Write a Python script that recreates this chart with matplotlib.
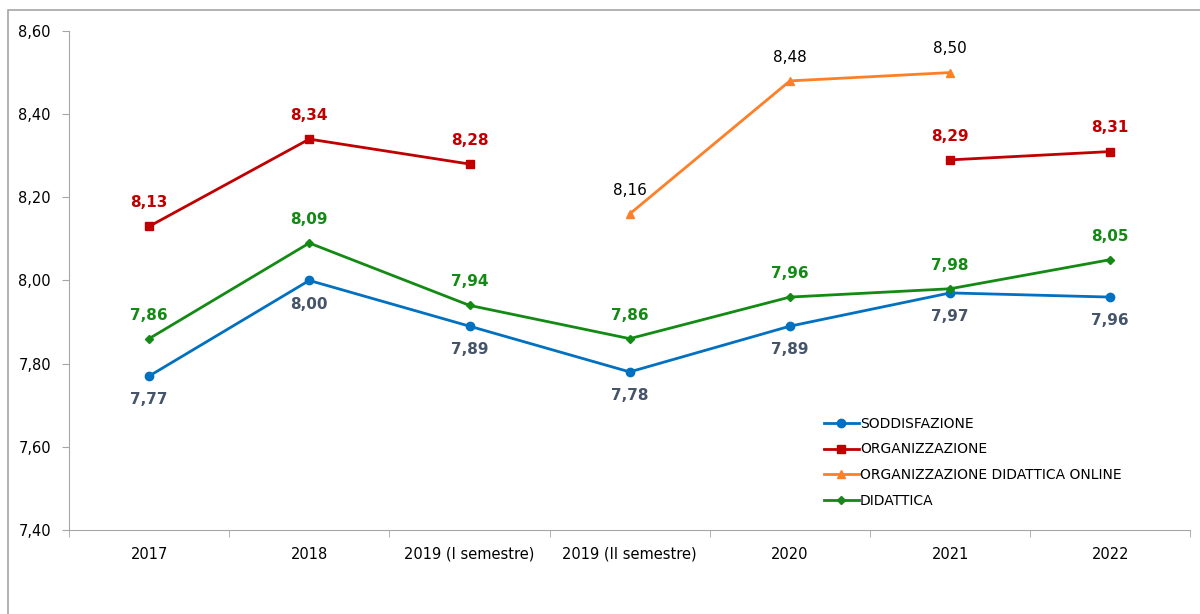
import numpy as np
import matplotlib
matplotlib.use('Agg')
import matplotlib.pyplot as plt
from matplotlib.patches import Rectangle
from matplotlib.ticker import FixedLocator

categories = ['2017', '2018', '2019 (I semestre)', '2019 (II semestre)', '2020', '2021', '2022']
soddisfazione = [7.77, 8.00, 7.89, 7.78, 7.89, 7.97, 7.96]
organizzazione = [8.13, 8.34, 8.28, np.nan, np.nan, 8.29, 8.31]
org_online = [np.nan, np.nan, np.nan, 8.16, 8.48, 8.50, np.nan]
didattica = [7.86, 8.09, 7.94, 7.86, 7.96, 7.98, 8.05]
y_ticks = [7.40, 7.60, 7.80, 8.00, 8.20, 8.40, 8.60]

plt.rcParams['font.family'] = ['DejaVu Sans']

fig = plt.figure(figsize=(12, 6.14), dpi=100)
ax = fig.add_axes([0.0575, 0.137, 0.9345, 0.8125])

# chart frame
fig.patches.append(Rectangle((8 / 1200, -0.1), 1.2, 1 - 10 / 614 + 0.1, transform=fig.transFigure,
                             fill=False, edgecolor='#a6a6a6', linewidth=1.2))

x = np.arange(len(categories))

series = [
    ('SODDISFAZIONE', soddisfazione, '#0070c0', 'o', 6, '#44546a', 'bold', -1),
    ('ORGANIZZAZIONE', organizzazione, '#c00000', 's', 6, '#c00000', 'bold', 1),
    ('ORGANIZZAZIONE DIDATTICA ONLINE', org_online, '#ff7f27', '^', 6, '#000000', 'normal', 1),
    ('DIDATTICA', didattica, '#138a13', 'D', 4.5, '#138a13', 'bold', 1),
]

for name, vals, col, mk, ms, lcol, weight, side in series:
    ax.plot(x, vals, color=col, marker=mk, markersize=ms, linewidth=2, label=name)
    for xi, v in zip(x, vals):
        if np.isnan(v):
            continue
        ax.annotate(f'{v:.2f}'.replace('.', ','), (xi, v), xytext=(0, 17 * side),
                    textcoords='offset points', ha='center', va='center',
                    color=lcol, fontsize=11, fontweight=weight)

ax.set_xlim(-0.5, len(categories) - 0.5)
ax.set_ylim(7.40, 8.60)
ax.set_yticks(y_ticks)
ax.set_yticklabels([f'{t:.2f}'.replace('.', ',') for t in y_ticks])
ax.set_xticks(x)
ax.set_xticklabels(categories)
ax.xaxis.set_minor_locator(FixedLocator(np.arange(-0.5, len(categories), 1)))
ax.tick_params(axis='x', which='major', length=0, pad=12, labelsize=10.5)
ax.tick_params(axis='x', which='minor', length=5, color='#a6a6a6')
ax.tick_params(axis='y', length=5, color='#a6a6a6', labelsize=10.5, pad=8)

for s in ['top', 'right']:
    ax.spines[s].set_visible(False)
for s in ['left', 'bottom']:
    ax.spines[s].set_color('#a6a6a6')

ax.legend(loc='upper left', bbox_to_anchor=(0.662, 0.252), frameon=False, fontsize=10,
          handlelength=2.5, handletextpad=0.1, labelspacing=0.85)

fig.savefig('out.png', dpi=100)
